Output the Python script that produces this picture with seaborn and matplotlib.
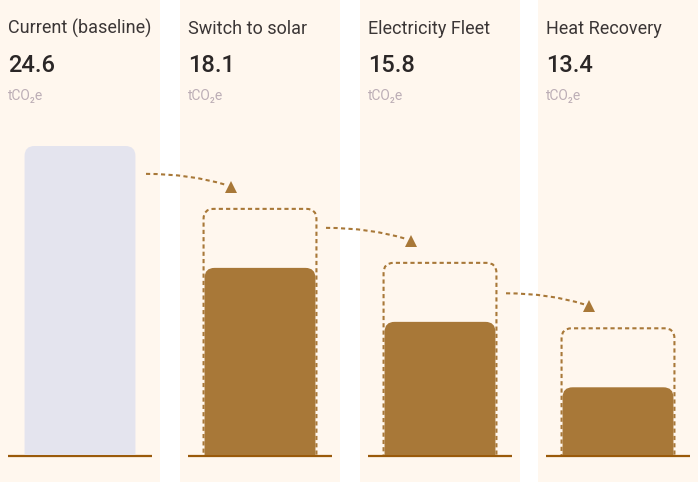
import matplotlib
matplotlib.use("Agg")
import matplotlib.pyplot as plt
import seaborn as sns
from matplotlib.patches import FancyBboxPatch, PathPatch
from matplotlib.path import Path
from matplotlib.lines import Line2D
from matplotlib.transforms import IdentityTransform

scenarios = ["Current (baseline)", "Switch to solar", "Electricity Fleet", "Heat Recovery"]
emissions = [24.6, 18.1, 15.8, 13.4]
unit_label = "tCO\u2082e"

bar_colors = ["#e4e4ee", "#a87838", "#a87838", "#a87838"]
accent = "#a87838"

W, H = 698, 482
panel_left = [0, 180, 360, 538]
panel_w = 160
base_py = 456      # baseline row, pixels from top
top_py = 146       # top of the tallest bar
y_floor = 11.3     # bottom of the (log) value axis
headroom = 59      # ghost outline above each reduced bar, px

sns.set_theme(style="white")
plt.rcParams["font.family"] = ["Roboto", "DejaVu Sans"]

fig = plt.figure(figsize=(W / 100, H / 100), dpi=100)
fig.patch.set_facecolor("white")
ident = IdentityTransform()


def disp(px, py):
    # pixel (from top-left) -> display coords
    return px, H - py


bar_tops = []
for i, (name, val) in enumerate(zip(scenarios, emissions)):
    left = panel_left[i]
    bg = fig.add_axes([left / W, 0, panel_w / W, 1])
    bg.set_facecolor("#fff7ee")
    bg.set_xticks([])
    bg.set_yticks([])
    for s in bg.spines.values():
        s.set_visible(False)
    bg.set_xlim(0, panel_w)
    bg.set_ylim(H, 0)
    bg.text(8, 34, name, fontsize=13, color="#3b3636", va="baseline")
    bg.text(8, 72, f"{val}", fontsize=17, color="#2b2727", va="baseline", fontweight="medium")
    bg.text(8, 100, unit_label, fontsize=10, color="#bcaeb6", va="baseline")

    ax = fig.add_axes([(left + 8) / W, (H - base_py + 1) / H, 144 / W, (base_py - 1 - top_py) / H])
    sns.barplot(x=[name], y=[val], ax=ax, color=bar_colors[i], saturation=1, width=0.77)
    ax.set_yscale("log")
    ax.set_ylim(y_floor, emissions[0])
    ax.set_xlim(-0.5, 0.5)
    ax.axis("off")

    # swap the square bar for a rounded-top one, same geometry
    for p in list(ax.patches):
        x0 = p.get_x()
        x1 = x0 + p.get_width()
        d0 = ax.transData.transform((x0, val))
        d1 = ax.transData.transform((x1, val))
        yb = ax.bbox.y0
        r = 10
        p.remove()
        rb = FancyBboxPatch((d0[0], yb - r), d1[0] - d0[0], d0[1] - yb + r,
                            boxstyle=f"round,pad=0,rounding_size={r}",
                            transform=ident, facecolor=bar_colors[i], edgecolor="none")
        ax.add_patch(rb)
        top_px = H - d0[1]
        bar_tops.append(top_px)
        if i > 0:
            gtop = d0[1] + headroom
            gb = FancyBboxPatch((d0[0] - 1, yb - r), d1[0] - d0[0] + 2, gtop - yb + r,
                                boxstyle="round,pad=0,rounding_size=10",
                                transform=ident, facecolor="none", edgecolor=accent,
                                lw=1.5, linestyle=(0, (2, 1.5)), zorder=5)
            ax.add_patch(gb)

    bg.plot([8, 152], [base_py, base_py], color="#9a5a0a", lw=1.6,
            solid_capstyle="butt", zorder=3)

# dashed arrows between panels
for i in range(1, len(emissions)):
    box_top = bar_tops[i] - headroom
    tx = panel_left[i] + 51
    ty = box_top - 22
    sx = panel_left[i - 1] + 146
    sy = ty - 13
    ex, ey = tx - 5, ty - 2
    verts = [disp(sx, sy), disp(sx + 0.55 * (ex - sx), sy), disp(ex, ey)]
    path = Path(verts, [Path.MOVETO, Path.CURVE3, Path.CURVE3])
    fig.add_artist(PathPatch(path, facecolor="none", edgecolor=accent, lw=1.5,
                             linestyle=(0, (2, 1.6)), transform=ident))
    fig.add_artist(Line2D([disp(tx, ty)[0]], [disp(tx, ty)[1]], marker="^",
                          markersize=8, color=accent, markeredgewidth=0,
                          linestyle="none", transform=ident))

fig.savefig("out.png", dpi=100, facecolor=fig.get_facecolor())
